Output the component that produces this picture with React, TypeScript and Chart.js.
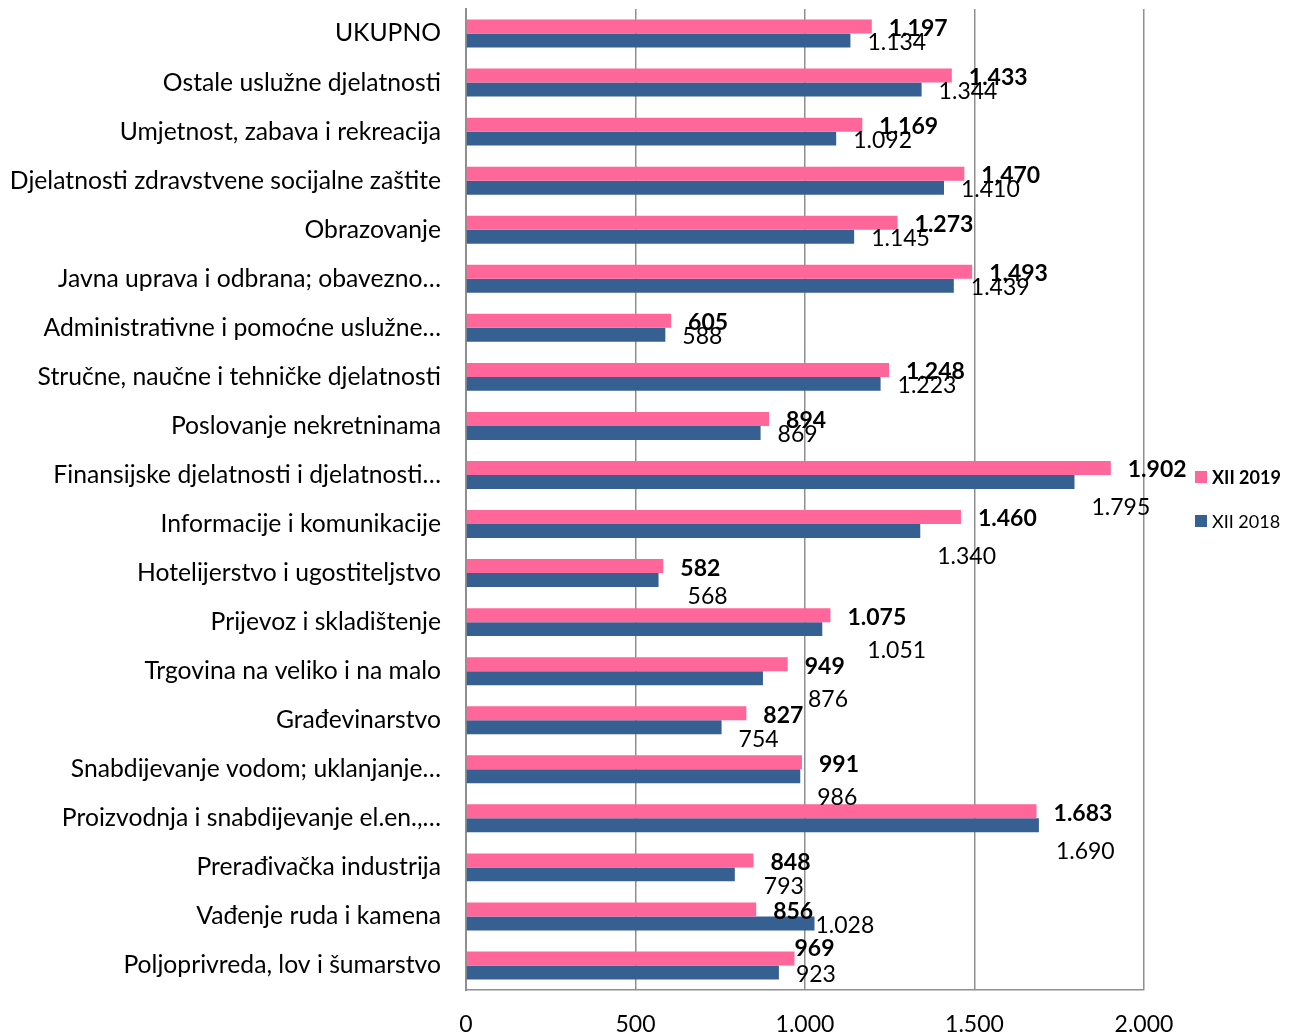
import React, { useEffect, useRef } from "react";
import { Chart, registerables } from "chart.js";

Chart.register(...registerables);

const categories = [
  "UKUPNO",
  "Ostale uslužne djelatnosti",
  "Umjetnost, zabava i rekreacija",
  "Djelatnosti zdravstvene socijalne zaštite",
  "Obrazovanje",
  "Javna uprava i odbrana; obavezno…",
  "Administrativne i pomoćne uslužne…",
  "Stručne, naučne i tehničke djelatnosti",
  "Poslovanje nekretninama",
  "Finansijske djelatnosti i djelatnosti…",
  "Informacije i komunikacije",
  "Hotelijerstvo i ugostiteljstvo",
  "Prijevoz i skladištenje",
  "Trgovina na veliko i na malo",
  "Građevinarstvo",
  "Snabdijevanje vodom; uklanjanje…",
  "Proizvodnja i snabdijevanje el.en.,…",
  "Prerađivačka industrija",
  "Vađenje ruda i kamena",
  "Poljoprivreda, lov i šumarstvo",
];

const values2019 = [1197, 1433, 1169, 1470, 1273, 1493, 605, 1248, 894, 1902, 1460, 582, 1075, 949, 827, 991, 1683, 848, 856, 969];
const values2018 = [1134, 1344, 1092, 1410, 1145, 1439, 588, 1223, 869, 1795, 1340, 568, 1051, 876, 754, 986, 1690, 793, 1028, 923];

const seriesNames = ["XII 2019", "XII 2018"];
const xMin = 0;
const xMax = 2000;
const xStep = 500;

const PINK = "#FF6699";
const BLUE = "#376092";
const GRID = "#8f8f8f";
const FONT = "Lato, 'Open Sans', sans-serif";

// label placement nudges (layout only): [dx from bar end, dy from bar centre]
const nudge2019: Record<number, [number, number]> = { 19: [0, -10] };
const nudge2018: Record<number, [number, number]> = {
  9: [17, 26],
  10: [17, 26],
  11: [29, 17],
  12: [45, 21],
  13: [45, 21],
  14: [17, 12],
  15: [17, 21],
  16: [17, 26],
  17: [29, 12],
  18: [1, 2],
};

function fmt(v: number): string {
  const s = Math.round(v).toString();
  return s.replace(/\B(?=(\d{3})+(?!\d))/g, ".");
}

const valueLabelPlugin = {
  id: "valueLabels",
  afterDatasetsDraw(chart: any) {
    const ctx = chart.ctx;
    chart.data.datasets.forEach((ds: any, di: number) => {
      const meta = chart.getDatasetMeta(di);
      const nudges = di === 0 ? nudge2019 : nudge2018;
      meta.data.forEach((bar: any, i: number) => {
        const n = nudges[i] || [17, 2];
        ctx.save();
        ctx.font = (di === 0 ? "bold " : "") + "23px " + FONT;
        ctx.fillStyle = "#000";
        ctx.textAlign = "left";
        ctx.textBaseline = "middle";
        ctx.fillText(fmt(ds.data[i]), bar.x + n[0], bar.y + n[1]);
        ctx.restore();
      });
    });
  },
};

const legendPlugin = {
  id: "customLegend",
  afterDraw(chart: any) {
    const ctx = chart.ctx;
    const items = [
      { label: seriesNames[0], color: PINK, bold: true, y: 477 },
      { label: seriesNames[1], color: BLUE, bold: false, y: 521 },
    ];
    items.forEach((it) => {
      ctx.save();
      ctx.fillStyle = it.color;
      ctx.fillRect(1195, it.y - 6, 12, 12);
      ctx.fillStyle = "#000";
      ctx.font = (it.bold ? "bold " : "") + "18px " + FONT;
      ctx.textAlign = "left";
      ctx.textBaseline = "middle";
      ctx.fillText(it.label, 1212, it.y + 1);
      ctx.restore();
    });
  },
};

export default function App() {
  const ref = useRef<HTMLCanvasElement | null>(null);

  useEffect(() => {
    if (!ref.current) return;
    const chart = new Chart(ref.current, {
      type: "bar",
      data: {
        labels: categories,
        datasets: [
          {
            label: seriesNames[0],
            data: values2019,
            backgroundColor: PINK,
            categoryPercentage: 0.57,
            barPercentage: 1,
          },
          {
            label: seriesNames[1],
            data: values2018,
            backgroundColor: BLUE,
            categoryPercentage: 0.57,
            barPercentage: 1,
          },
        ],
      },
      options: {
        indexAxis: "y",
        responsive: false,
        animation: false,
        layout: { padding: { top: 9, right: 148, left: 0, bottom: 0 } },
        plugins: {
          legend: { display: false },
          tooltip: { enabled: false },
        },
        scales: {
          x: {
            min: xMin,
            max: xMax,
            ticks: {
              stepSize: xStep,
              color: "#000",
              font: { family: FONT, size: 23 },
              padding: 21,
              callback: (v: any) => fmt(Number(v)),
            },
            grid: { color: GRID, lineWidth: 1.5, drawTicks: false },
            border: { display: true, color: GRID, width: 1.5 },
            afterFit: (s: any) => {
              s.height = 45;
              s.paddingLeft = 0;
              s.paddingRight = 0;
            },
          },
          y: {
            ticks: {
              color: "#000",
              font: { family: FONT, size: 24.7 },
              padding: 25,
              autoSkip: false,
            },
            grid: { display: false, drawTicks: false },
            border: { display: true, color: GRID, width: 2 },
            afterFit: (s: any) => {
              s.width = 466;
              s.paddingTop = 0;
              s.paddingBottom = 0;
            },
          },
        },
      },
      plugins: [valueLabelPlugin, legendPlugin],
    } as any);
    return () => chart.destroy();
  }, []);

  return (
    <div style={{ position: "fixed", left: 0, top: 0, width: 1292, height: 1035, background: "#fff" }}>
      <canvas ref={ref} width={1292} height={1035} style={{ display: "block" }} />
    </div>
  );
}
